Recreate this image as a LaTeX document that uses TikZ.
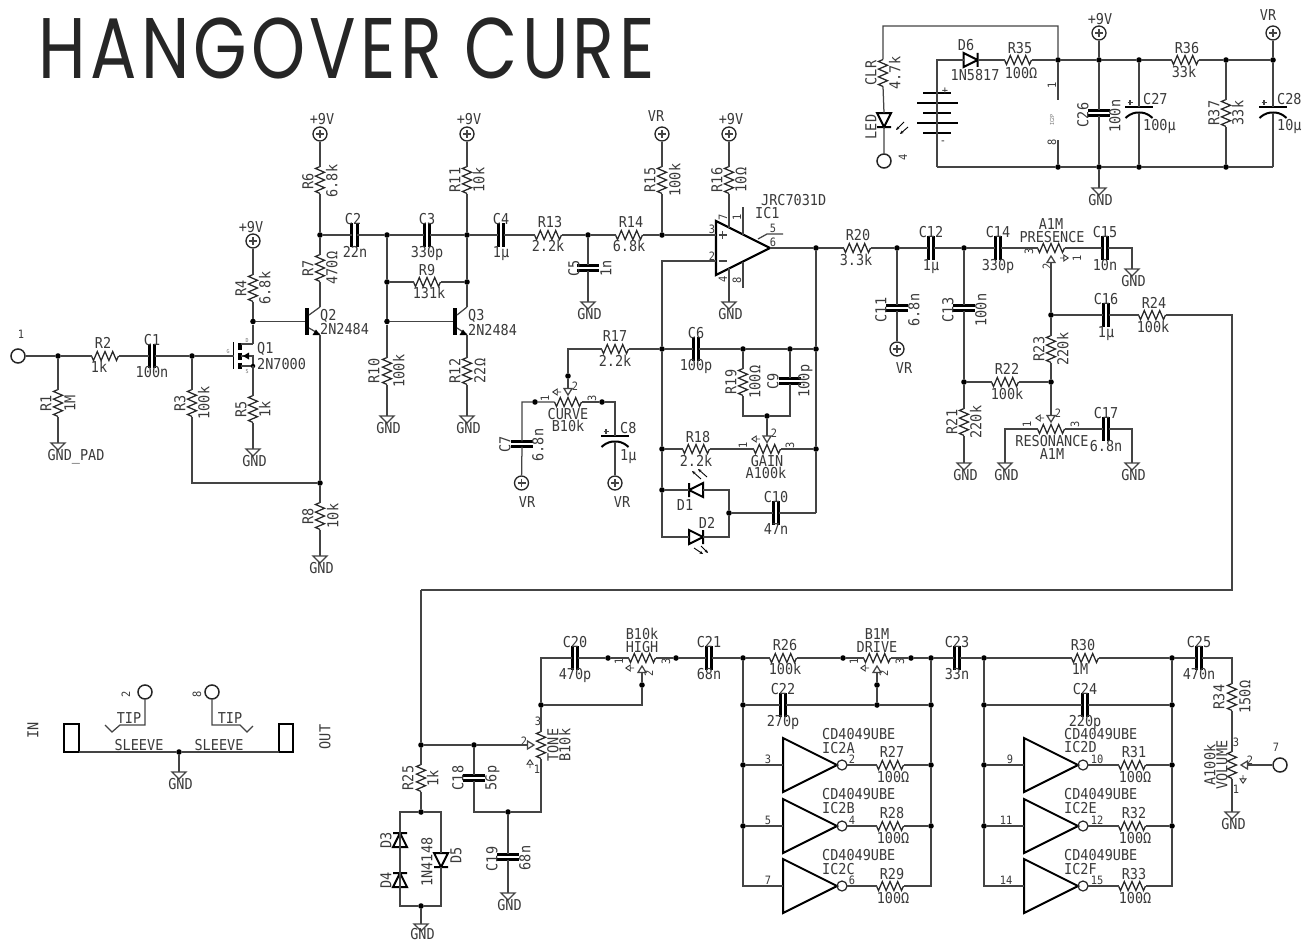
\documentclass[tikz,border=0pt]{standalone}
\usepackage{fontspec}
\usetikzlibrary{arrows.meta}
\newfontfamily\eag[FakeStretch=0.9]{DejaVu Sans Mono}
\newfontfamily\ttl[FakeStretch=0.8,LetterSpace=5]{Poppins}
\definecolor{wc}{HTML}{444444}
\definecolor{tc}{HTML}{3a3a3a}
\tikzset{
 wire/.style={line width=1.25pt,color=wc,line join=miter},
 zig/.style={line width=1.25pt,color=black!85,line join=miter},
 thk/.style={line width=2pt,color=black,line join=miter},
 plate/.style={line width=3pt,color=black},
 dot/.style={circle,fill=black,inner sep=0pt,minimum size=5.6pt},
 padc/.style={circle,draw=black!85,line width=1.5pt,inner sep=0pt,minimum size=14pt},
 supc/.style={circle,draw=black!85,line width=1.3pt,inner sep=0pt,minimum size=14pt},
 lab/.style={inner sep=0pt,text=tc,font=\eag\fontsize{15}{15}\selectfont,text height=10.9pt,text depth=0pt},
 sml/.style={inner sep=0pt,text=tc,font=\eag\fontsize{11.5}{12}\selectfont,text height=8.4pt,text depth=0pt},
 tiny/.style={inner sep=0pt,text=black!55,font=\eag\fontsize{5.5}{6}\selectfont,text height=4pt,text depth=0pt},
}
\newcounter{tn}
\newcommand{\Tx}[3]{\stepcounter{tn}\node[lab] (t\arabic{tn}) at (#1,#2) {#3};}
\newcommand{\Txr}[3]{\stepcounter{tn}\node[lab,rotate=90] (t\arabic{tn}) at (#1,#2) {#3};}
\newcommand{\Txl}[3]{\stepcounter{tn}\node[lab,anchor=west] (t\arabic{tn}) at (#1,#2) {#3};}
\newcommand{\Tsm}[3]{\stepcounter{tn}\node[sml] (t\arabic{tn}) at (#1,#2) {#3};}
\newcommand{\Tsr}[3]{\stepcounter{tn}\node[sml,rotate=90] (t\arabic{tn}) at (#1,#2) {#3};}
\newcommand{\Tty}[4]{\stepcounter{tn}\node[tiny,rotate=#4] (t\arabic{tn}) at (#1,#2) {#3};}
\newcommand{\Zz}{(-13.5,0)--(-11.5,4.5)--(-7.7,-4.5)--(-3.9,4.5)--(0,-4.5)--(3.9,4.5)--(7.7,-4.5)--(11.5,4.5)--(13.5,0)}
\newcommand{\Rh}[3]{\begin{scope}[shift={(#2,#3)}]\draw[zig] \Zz;\coordinate (#1-a) at (-13.5,0);\coordinate (#1-b) at (13.5,0);\end{scope}}
\newcommand{\Rv}[3]{\begin{scope}[shift={(#2,#3)},rotate=-90]\draw[zig] \Zz;\coordinate (#1-a) at (-13.5,0);\coordinate (#1-b) at (13.5,0);\end{scope}}
\newcommand{\Ch}[3]{\draw[plate] (#2-2.6,#3-12)--(#2-2.6,#3+12);\draw[plate] (#2+2.6,#3-12)--(#2+2.6,#3+12);\coordinate (#1-a) at (#2-2.6,#3);\coordinate (#1-b) at (#2+2.6,#3);}
\newcommand{\Cv}[3]{\draw[plate] (#2-11,#3-2.6)--(#2+11,#3-2.6);\draw[plate] (#2-11,#3+2.6)--(#2+11,#3+2.6);\coordinate (#1-a) at (#2,#3-2.6);\coordinate (#1-b) at (#2,#3+2.6);}
\newcommand{\Cp}[3]{\draw[thk] (#2-14,#3)--(#2+14,#3);\draw[thk] (#2-13.5,#3+11) .. controls (#2-8,#3+6) and (#2-4,#3+5.5) .. (#2,#3+5.5) .. controls (#2+4,#3+5.5) and (#2+8,#3+6) .. (#2+13.5,#3+11);\draw[wire] (#2-11.5,#3-4.5)--(#2-6.5,#3-4.5) (#2-9,#3-7)--(#2-9,#3-2);\coordinate (#1-a) at (#2,#3);\coordinate (#1-b) at (#2,#3+5.5);}
\newcommand{\GndS}[3]{\draw[wire] (#2-7,#3)--(#2+7,#3)--(#2,#3+7)--cycle;\coordinate (#1) at (#2,#3);}
\newcommand{\Gnd}[3]{\GndS{#1}{#2}{#3}\Tx{#2+1.5}{#3+12}{GND}}
\newcommand{\Vs}[3]{\node[supc] (#1) at (#2,#3) {};\draw[wire] (#2-4,#3)--(#2+4,#3) (#2,#3-4)--(#2,#3+4);}
% wiper arrow: apex at (x,y), rot 0 = pointing down
\newcommand{\Ar}[4]{\begin{scope}[shift={(#2,#3)},rotate=#4]\draw[wire] (0,0)--(-4,-6.5)--(4,-6.5)--cycle;\coordinate (#1) at (0,-6.5);\end{scope}}
% pin-1 tick mark
\newcommand{\Tk}[3]{\begin{scope}[shift={(#1,#2)},rotate=#3]\draw[line width=.9pt,color=black!80] (-2.2,0)--(2.2,-3)--(2.2,3)--cycle (2.2,0)--(6,0);\end{scope}}
% diode: rot 0 points right
\newcommand{\Dd}[4]{\begin{scope}[shift={(#2,#3)},rotate=#4]\draw[thk] (-7,-7)--(-7,7)--(7,0)--cycle (7,-7)--(7,7);\coordinate (#1-a) at (-7,0);\coordinate (#1-b) at (7,0);\end{scope}}
\newcommand{\Npn}[3]{\draw[line width=4pt,color=black] (#2,308)--(#2,335);\draw[wire] (#2+2,315)--(#3,307) (#2+2,328)--(#3,334.5);\fill[black] (#3-4,329.5)--(#3,335)--(#3-7.5,335)--cycle;\coordinate (#1-b) at (#2-2,321.5);\coordinate (#1-c) at (#3,307);\coordinate (#1-e) at (#3,334.5);}
\newcommand{\Inv}[3]{\draw[thk] (#2,#3-27)--(#2,#3+27)--(#2+54,#3)--cycle;\draw[line width=1.2pt,color=black!85] (#2+59,#3) circle (5);\coordinate (#1-i) at (#2,#3);\coordinate (#1-o) at (#2+64,#3);}
\newcommand{\Ledar}[4]{\draw[line width=.9pt,color=black,-{Stealth[length=3.5pt,width=3pt]}] (#1,#2)--(#3,#4);}
\begin{document}
\begin{tikzpicture}[x=1pt,y=-1pt]
\useasboundingbox (0,0) rectangle (1311,942);
\fill[white] (0,0) rectangle (1311,942);
% title
\node[inner sep=0pt,font=\ttl\fontsize{86}{86}\selectfont,text=black!85,anchor=center] (title) at (346.5,48) {HANGOVER CURE};

% ---------- input stage
\node[padc] (p1) at (18,356) {}; \Tsm{21}{334}{1}
\node[dot] (j1) at (58,356) {};
\node[dot] (j2) at (192,356) {};
\node[dot] (j3) at (253,321.5) {};
\node[dot] (j4) at (320,235) {};
\node[dot] (j5) at (387,235) {};
\node[dot] (j6) at (467,235) {};
\node[dot] (j7) at (387,282) {};
\node[dot] (j8) at (467,282) {};
\node[dot] (j9) at (387,321.5) {};
\node[dot] (j10) at (588,235) {};
\node[dot] (j11) at (662,235) {};
\node[dot] (j12) at (320,483) {};
\Rh{R2}{105}{356}\Tx{103}{343}{R2}\Tx{99}{367}{1k}
\Ch{C1}{152}{356}\Tx{152}{340}{C1}\Tx{152}{372}{100n}
\Rv{R1}{58}{403}\Txr{46}{403}{R1}\Txr{70}{403}{1M}
\GndS{G1}{58}{443}\Tx{76}{455}{GND\_PAD}
\Rv{R3}{192}{403}\Txr{180}{403}{R3}\Txr{204}{403}{100k}
\Rv{R4}{253}{288}\Txr{241}{288}{R4}\Txr{265}{288}{6.8k}
\Vs{V1}{253}{241}\Tx{251}{227}{+9V}
\Rv{R5}{253}{409}\Txr{241}{409}{R5}\Txr{265}{409}{1k}
\Gnd{G2}{253}{449}
\Rv{R6}{320}{180}\Txr{308}{181}{R6}\Txr{332}{181}{6.8k}
\Vs{V2}{320}{134}\Tx{322}{119}{+9V}
\Rv{R7}{320}{268}\Txr{308}{268}{R7}\Txr{332}{268}{470Ω}
\Rv{R8}{320}{516}\Txr{308}{516}{R8}\Txr{333}{516}{10k}
\Gnd{G3}{320}{556}
\Npn{Q2}{307}{320}\Txl{320}{315}{Q2}\Txl{320}{329}{2N2484}
% Q1 MOSFET
\draw[line width=1.6pt,color=black] (233.5,342)--(233.5,369);
\draw[line width=4pt,color=black] (239.5,343)--(239.5,350) (239.5,352.5)--(239.5,360) (239.5,362.5)--(239.5,369);
\coordinate (Q1-g) at (233.5,356);
\coordinate (Q1-d) at (253,344);
\coordinate (Q1-s) at (253,366);
\coordinate (Q1-m) at (253,356);
\draw[wire] (241,344)--(Q1-d) (241,366)--(Q1-s) (241,356)--(Q1-m)--(Q1-s);
\fill[black] (243,356)--(249,352.5)--(249,359.5)--cycle;
\node[dot,minimum size=4.5pt] (j13) at (253,366) {};
\Tty{228}{351}{G}{0}\Tty{247}{340}{D}{0}\Tty{247}{371}{S}{0}
\Txl{257}{348}{Q1}\Txl{257}{364}{2N7000}
\draw[wire] (p1)--(j1)--(R2-a) (R2-b)--(C1-a) (C1-b)--(j2)--(Q1-g);
\draw[wire] (j1)--(R1-a) (R1-b)--(G1);
\draw[wire] (j2)--(R3-a);
\draw[wire] (R3-b) |- (j12);
\draw[wire] (V1)--(R4-a) (R4-b)--(j3)--(Q1-d) (j3)--(Q2-b);
\draw[wire] (Q1-s)--(R5-a) (R5-b)--(G2);
\draw[wire] (V2)--(R6-a) (R6-b)--(j4)--(R7-a) (R7-b)--(Q2-c) (Q2-e)--(j12)--(R8-a) (R8-b)--(G3);

% ---------- second stage
\Ch{C2}{354.5}{235}\Tx{353}{219}{C2}\Tx{355}{252}{22n}
\Ch{C3}{427}{235}\Tx{427}{219}{C3}\Tx{427}{252}{330p}
\Ch{C4}{501}{235}\Tx{501}{219}{C4}\Tx{501}{252}{1µ}
\Rh{R9}{427}{282}\Tx{427}{270}{R9}\Tx{429}{293}{131k}
\Rv{R10}{387}{371}\Txr{374}{371}{R10}\Txr{399}{371}{100k}
\Gnd{G4}{387}{416}
\Rv{R11}{467}{180}\Txr{455}{180}{R11}\Txr{479}{180}{10k}
\Vs{V3}{467}{134}\Tx{469}{119}{+9V}
\Rv{R12}{467}{371}\Txr{455}{371}{R12}\Txr{480}{371}{22Ω}
\Gnd{G5}{467}{416}
\Npn{Q3}{455}{467}\Txl{468}{315}{Q3}\Txl{468}{330}{2N2484}
\Rh{R13}{548}{235}\Tx{550}{222}{R13}\Tx{548}{246}{2.2k}
\Rh{R14}{629}{235}\Tx{631}{222}{R14}\Tx{629}{246}{6.8k}
\Cv{C5}{588}{268}\Txr{574}{268}{C5}\Txr{606}{268}{1n}
\Gnd{G6}{588}{302}
\Rv{R15}{662}{180}\Txr{650}{180}{R15}\Txr{675}{180}{100k}
\Vs{V4}{662}{134}\Tx{656}{116}{VR}
\Rv{R16}{729}{180}\Txr{717}{180}{R16}\Txr{741}{180}{10Ω}
\Vs{V5}{729}{134}\Tx{731}{119}{+9V}
\Gnd{G7}{729}{302}
\draw[wire] (j4)--(C2-a) (C2-b)--(j5)--(C3-a) (C3-b)--(j6)--(C4-a) (C4-b)--(R13-a) (R13-b)--(j10)--(R14-a) (R14-b)--(j11);
\draw[wire] (j5)--(j7)--(j9)--(R10-a) (R10-b)--(G4);
\draw[wire] (j9)--(Q3-b);
\draw[wire] (j7)--(R9-a) (R9-b)--(j8);
\draw[wire] (V3)--(R11-a) (R11-b)--(j6)--(j8)--(Q3-c) (Q3-e)--(R12-a) (R12-b)--(G5);
\draw[wire] (j10)--(C5-a) (C5-b)--(G6);
\draw[wire] (V4)--(R15-a) (R15-b)--(j11);
\draw[wire] (V5)--(R16-a);

% ---------- op amp
\coordinate (A-p) at (716,235);
\coordinate (A-m) at (716,261);
\coordinate (A-o) at (770,248);
\coordinate (A-7) at (729,228);
\coordinate (A-4) at (729,268);
\draw[line width=2.2pt,color=black,line join=miter] (716,221)--(716,275)--(770,248)--cycle;
\draw[wire] (718.5,235)--(727,235) (722.8,231)--(722.8,239) (718.5,261)--(727,261);
\draw[wire] (R16-b)--(A-7) (A-4)--(G7);
\draw[wire] (743,207)--(743,235) (743,262)--(743,288);
\draw[wire] (758,239)--(767,234)--(783,234);
\Tsr{723}{217}{7}\Tsr{737}{217}{1}\Tsr{723}{279}{4}\Tsr{737}{280}{8}
\Tsm{712}{229}{3}\Tsm{712}{256}{2}\Tsm{773}{228}{5}\Tsm{773}{242}{6}
\Txl{755}{213}{IC1}\Txl{761}{200}{JRC7031D}
\node[dot] (j14) at (816,248) {};
\node[dot] (j15) at (662,349) {};
\node[dot] (j16) at (743,349) {};
\node[dot] (j17) at (790,349) {};
\node[dot] (j18) at (816,349) {};
\node[dot] (j19) at (662,449) {};
\node[dot] (j20) at (816,449) {};
\node[dot] (j21) at (662,490) {};
\node[dot] (j22) at (729,513) {};
\node[dot] (j23) at (767,416) {};
\coordinate (c1) at (729,490);
\coordinate (c2) at (662,537);
\coordinate (c3) at (729,537);
\coordinate (c4) at (743,416);
\coordinate (c5) at (790,416);
\coordinate (c6) at (816,513);
\draw[wire] (j11)--(A-p) (A-m)-|(j15) (A-o)--(j14)--(j18)--(j20)--(c6);
\Rh{R17}{615}{349}\Tx{615}{336}{R17}\Tx{615}{361}{2.2k}
\Ch{C6}{696}{349}\Tx{696}{333}{C6}\Tx{696}{365}{100p}
\Rv{R19}{743}{382}\Txr{731}{382}{R19}\Txr{755}{382}{100Ω}
\Cv{C9}{790}{381}\Txr{773}{381}{C9}\Txr{804}{381}{100p}
\Rh{R18}{696}{449}\Tx{698}{437}{R18}\Tx{696}{461}{2.2k}
\Rh{PG}{767}{449}\Tx{767}{461}{GAIN}\Tx{766}{473.5}{A100k}
\Ar{PGw}{767}{442.5}{0}
\Tk{754}{439}{0}\Tsr{743}{445}{1}\Tsm{774}{433}{2}\Tsr{790}{445}{3}
\Dd{D1}{696}{490}{180}\Tx{685}{505}{D1}
\Dd{D2}{696}{537}{0}\Tx{707}{523}{D2}
\Ledar{701}{479}{692}{471}\Ledar{707}{477}{698}{469}
\Ledar{694}{548}{703}{554}\Ledar{701}{546}{708}{553}
\Ch{C10}{776}{513}\Tx{776}{497}{C10}\Tx{776}{529}{47n}
\draw[wire] (j15)--(C6-a) (C6-b)--(j16)--(j17)--(j18);
\draw[wire] (j16)--(R19-a) (R19-b)--(c4)--(j23)--(c5)--(C9-b) (C9-a)--(j17);
\draw[wire] (j23)--(PGw);
\draw[wire] (R17-b)--(j15)--(j19)--(j21)--(c2)--(D2-a) (D2-b)--(c3)--(j22)--(c1)--(D1-a) (D1-b)--(j21);
\draw[wire] (j19)--(R18-a) (R18-b)--(PG-a) (PG-b)--(j20);
\draw[wire] (j22)--(C10-a) (C10-b)--(c6);

% ---------- curve
\coordinate (c7) at (568,349);
\node[dot] (j24) at (568,376) {};
\Ar{PCw}{568}{395}{0}
\Rh{PC}{568}{402}\Tx{568}{414}{CURVE}\Tx{568}{426.5}{B10k}
\Tk{555}{392}{0}\Tsr{545}{398}{1}\Tsm{575}{386}{2}\Tsr{592}{398}{3}
\node[dot] (j25) at (535,402) {};
\node[dot] (j26) at (602,402) {};
\coordinate (c8) at (522,402);
\coordinate (c9) at (615,402);
\Cv{C7}{522}{444}\Txr{505}{444}{C7}\Txr{538}{445}{6.8n}
\Vs{V6}{521.5}{483}\Tx{527}{502}{VR}
\Cp{C8}{615}{436}\Txl{620}{428}{C8}\Txl{620}{455}{1µ}
\Vs{V7}{615}{483}\Tx{622}{502}{VR}
\draw[wire] (R17-a)--(c7)--(j24)--(PCw);
\draw[wire] (PC-a)--(j25)--(c8)--(C7-a) (C7-b)--(V6);
\draw[wire] (PC-b)--(j26)--(c9)--(C8-a) (C8-b)--(V7);

% ---------- presence / resonance
\Rh{R20}{857}{248}\Tx{858}{235}{R20}\Tx{856}{260}{3.3k}
\node[dot] (j27) at (897,248) {};
\Cv{C11}{897}{308}\Txr{881}{310}{C11}\Txr{914}{310}{6.8n}
\Vs{V8}{897}{349}\Tx{904}{368}{VR}
\Ch{C12}{931}{248}\Tx{931}{232}{C12}\Tx{931}{265}{1µ}
\node[dot] (j28) at (964,248) {};
\Cv{C13}{964}{308}\Txr{948}{310}{C13}\Txr{981}{310}{100n}
\Ch{C14}{998}{248}\Tx{998}{232}{C14}\Tx{998}{265}{330p}
\Rh{PP}{1051}{248}\Tx{1051}{224}{A1M}\Tx{1052}{237}{PRESENCE}
\Ar{PPw}{1051}{256}{180}
\Tsr{1029}{251}{3}\Tsr{1047}{266}{2}\Tk{1066}{258}{180}\Tsr{1077}{258}{1}
\Ch{C15}{1105}{248}\Tx{1105}{232}{C15}\Tx{1105}{265}{10n}
\coordinate (c10) at (1132,248);
\Gnd{G8}{1132}{269}
\node[dot] (j29) at (1051,315) {};
\Ch{C16}{1106}{315}\Tx{1106}{299}{C16}\Tx{1106}{332}{1µ}
\Rh{R24}{1152}{315}\Tx{1154}{303}{R24}\Tx{1153}{327}{100k}
\coordinate (c11) at (1232,315);
\coordinate (c12) at (1232,590);
\coordinate (c13) at (421,590);
\Rv{R23}{1051}{349}\Txr{1039}{349}{R23}\Txr{1063}{349}{220k}
\node[dot] (j30) at (1051,382) {};
\node[dot] (j31) at (964,382) {};
\Rh{R22}{1005}{382}\Tx{1007}{369}{R22}\Tx{1007}{394}{100k}
\Rv{R21}{964}{422}\Txr{952}{422}{R21}\Txr{976}{422}{220k}
\Gnd{G9}{964}{463}
\Ar{PRw}{1051}{422}{0}
\Rh{PR}{1051}{429}\Tx{1052}{441}{RESONANCE}\Tx{1052}{454}{A1M}
\Tk{1038}{418}{0}\Tsr{1027}{424}{1}\Tsm{1058}{413}{2}\Tsr{1075}{424}{3}
\coordinate (c14) at (1005,429);
\Gnd{G10}{1005}{463}
\Ch{C17}{1106}{429}\Tx{1106}{413}{C17}\Tx{1106}{446}{6.8n}
\coordinate (c15) at (1132,429);
\Gnd{G11}{1132}{463}
\draw[wire] (j14)--(R20-a) (R20-b)--(j27)--(C12-a) (C12-b)--(j28)--(C14-a) (C14-b)--(PP-a) (PP-b)--(C15-a) (C15-b)--(c10)--(G8);
\draw[wire] (j27)--(C11-a) (C11-b)--(V8);
\draw[wire] (j28)--(C13-a) (C13-b)--(j31)--(R21-a) (R21-b)--(G9);
\draw[wire] (PPw)--(j29)--(R23-a) (R23-b)--(j30)--(PRw);
\draw[wire] (j29)--(C16-a) (C16-b)--(R24-a) (R24-b)--(c11)--(c12)--(c13);
\draw[wire] (j31)--(R22-a) (R22-b)--(j30);
\draw[wire] (PR-a)--(c14)--(G10) (PR-b)--(C17-a) (C17-b)--(c15)--(G11);

% ---------- tone
\node[dot] (j32) at (421,745) {};
\node[dot] (j33) at (474,745) {};
\Rv{R25}{421}{778}\Txr{408}{778}{R25}\Txr{433}{778}{1k}
\node[dot] (j34) at (421,812) {};
\node[dot] (j35) at (421,906) {};
\coordinate (c16) at (400,812);
\coordinate (c17) at (441,812);
\coordinate (c18) at (400,906);
\coordinate (c19) at (441,906);
\Dd{D3}{400}{840}{90}\Txr{386}{840}{D3}
\Dd{D4}{400}{880}{90}\Txr{386}{880}{D4}
\Dd{D5}{441}{860}{-90}\Txr{456}{855}{D5}
\Txr{427}{862}{1N4148}
\GndS{G12}{421}{924}\Tx{422.5}{934.5}{GND}
\Ar{PTw}{534}{745}{90}
\Rv{PT}{541}{745}\Txr{553}{745}{TONE}\Txr{565}{745}{B10k}
\Tsm{524}{741}{2}\Tsm{538}{721}{3}\Tk{530}{762}{-90}\Tsm{537}{769}{1}
\node[dot] (j36) at (541,705) {};
\coordinate (c20) at (541,658);
\coordinate (c21) at (541,812);
\node[dot] (j37) at (508,812) {};
\coordinate (c22) at (474,812);
\Cv{C18}{474}{778}\Txr{458}{778}{C18}\Txr{491}{778}{56p}
\Cv{C19}{508}{857}\Txr{492}{859}{C19}\Txr{525}{858}{68n}
\Gnd{G13}{508}{893}
\Ch{C20}{575}{658}\Tx{575}{642}{C20}\Tx{575}{674}{470p}
\node[dot] (j38) at (608,658) {};
\Rh{PH}{642}{658}\Tx{642}{634}{B10k}\Tx{642}{647}{HIGH}
\Ar{PHw}{642}{666}{180}
\Tsr{619}{661}{1}\Tk{628}{668}{0}\Tsr{649}{673}{2}\Tsr{666}{661}{3}
\node[dot] (j39) at (642,685) {};
\coordinate (c23) at (642,705);
\node[dot] (j40) at (676,658) {};
\Ch{C21}{709}{658}\Tx{709}{642}{C21}\Tx{709}{674}{68n}
\draw[wire] (c13)--(j32)--(R25-a) (R25-b)--(j34)--(c16)--(D3-a) (D3-b)--(D4-a) (D4-b)--(c18)--(j35)--(c19)--(D5-b) (D5-a)--(c17)--(j34);
\draw[wire] (j35)--(G12);
\draw[wire] (j32)--(j33)--(PTw);
\draw[wire] (j33)--(C18-a) (C18-b)--(c22)--(j37)--(c21)--(PT-b) (PT-a)--(j36)--(c20)--(C20-a) (C20-b)--(j38)--(PH-a) (PH-b)--(j40)--(C21-a);
\draw[wire] (j37)--(C19-a) (C19-b)--(G13);
\draw[wire] (PHw)--(j39)--(c23)--(j36);

% ---------- drive
\node[dot] (j41) at (743,658) {};
\node[dot] (j42) at (743,705) {};
\node[dot] (j43) at (743,765) {};
\node[dot] (j44) at (743,826) {};
\coordinate (c24) at (743,886);
\Rh{R26}{783}{658}\Tx{785}{645}{R26}\Tx{785}{669}{100k}
\node[dot] (j45) at (843,658) {};
\Rh{PD}{877}{658}\Tx{877}{634}{B1M}\Tx{877}{647}{DRIVE}
\Ar{PDw}{877}{666}{180}
\Tsr{854}{661}{1}\Tk{863}{668}{0}\Tsr{884}{673}{2}\Tsr{900}{661}{3}
\node[dot] (j46) at (911,658) {};
\node[dot] (j47) at (931,658) {};
\node[dot] (j48) at (877,685) {};
\node[dot] (j49) at (877,705) {};
\node[dot] (j50) at (931,705) {};
\node[dot] (j51) at (931,765) {};
\node[dot] (j52) at (931,826) {};
\coordinate (c25) at (931,886);
\Ch{C22}{783}{705}\Tx{783}{689}{C22}\Tx{783}{721}{270p}
\Inv{IA}{783}{765}\Inv{IB}{783}{826}\Inv{IC}{783}{886}
\Rh{R27}{890}{765}\Tx{892}{752}{R27}\Tx{893}{777}{100Ω}
\Rh{R28}{890}{826}\Tx{892}{813}{R28}\Tx{893}{838}{100Ω}
\Rh{R29}{890}{886}\Tx{892}{874}{R29}\Tx{893}{898}{100Ω}
\Tsm{768}{759}{3}\Tsm{768}{820}{5}\Tsm{768}{880}{7}
\Tsm{852}{759}{2}\Tsm{852}{820}{4}\Tsm{852}{880}{6}
\Txl{822}{734}{CD4049UBE}\Txl{822}{748}{IC2A}
\Txl{822}{794}{CD4049UBE}\Txl{822}{808}{IC2B}
\Txl{822}{855}{CD4049UBE}\Txl{822}{869}{IC2C}
\Ch{C23}{957}{658}\Tx{957}{642}{C23}\Tx{957}{674}{33n}
\draw[wire] (C21-b)--(j41)--(R26-a) (R26-b)--(j45)--(PD-a) (PD-b)--(j46)--(j47)--(C23-a);
\draw[wire] (j41)--(j42)--(j43)--(j44)--(c24)--(IC-i);
\draw[wire] (j43)--(IA-i) (j44)--(IB-i);
\draw[wire] (j42)--(C22-a) (C22-b)--(j49)--(j50);
\draw[wire] (PDw)--(j48)--(j49);
\draw[wire] (j47)--(j50)--(j51)--(j52)--(c25)--(R29-b);
\draw[wire] (IA-o)--(R27-a) (R27-b)--(j51);
\draw[wire] (IB-o)--(R28-a) (R28-b)--(j52);
\draw[wire] (IC-o)--(R29-a);

% ---------- output section
\node[dot] (j53) at (984,658) {};
\node[dot] (j54) at (984,705) {};
\node[dot] (j55) at (984,765) {};
\node[dot] (j56) at (984,826) {};
\coordinate (c26) at (984,886);
\Rh{R30}{1085}{658}\Tx{1083}{645}{R30}\Tx{1080}{669}{1M}
\node[dot] (j57) at (1172,658) {};
\node[dot] (j58) at (1172,705) {};
\node[dot] (j59) at (1172,765) {};
\node[dot] (j60) at (1172,826) {};
\coordinate (c27) at (1172,886);
\Ch{C24}{1085}{705}\Tx{1085}{689}{C24}\Tx{1085}{721}{220p}
\Inv{ID}{1024}{765}\Inv{IE}{1024}{826}\Inv{IF}{1024}{886}
\Rh{R31}{1132}{765}\Tx{1134}{752}{R31}\Tx{1135}{777}{100Ω}
\Rh{R32}{1132}{826}\Tx{1134}{813}{R32}\Tx{1135}{838}{100Ω}
\Rh{R33}{1132}{886}\Tx{1134}{874}{R33}\Tx{1135}{898}{100Ω}
\Tsm{1010}{759}{9}\Tsm{1006}{820}{11}\Tsm{1006}{880}{14}
\Tsm{1097}{759}{10}\Tsm{1097}{820}{12}\Tsm{1097}{880}{15}
\Txl{1064}{734}{CD4049UBE}\Txl{1064}{747}{IC2D}
\Txl{1064}{794}{CD4049UBE}\Txl{1064}{808}{IC2E}
\Txl{1064}{855}{CD4049UBE}\Txl{1064}{869}{IC2F}
\Ch{C25}{1199}{658}\Tx{1199}{642}{C25}\Tx{1199}{674}{470n}
\coordinate (c28) at (1232,658);
\Rv{R34}{1232}{697}\Txr{1219}{697}{R34}\Txr{1245}{697}{150Ω}
\Rv{PV}{1232}{765}\Txr{1222}{765}{VOLUME}\Txr{1210}{765}{A100k}
\Ar{PVw}{1241}{765}{-90}
\Tsm{1236}{742}{3}\Tsm{1250}{760}{2}\Tk{1243}{781}{90}\Tsm{1236}{789}{1}
\node[padc] (p7) at (1280,765) {}; \Tsm{1276}{747}{7}
\Gnd{G14}{1232}{812}
\draw[wire] (C23-b)--(j53)--(R30-a) (R30-b)--(j57)--(C25-a) (C25-b)--(c28)--(R34-a) (R34-b)--(PV-a) (PV-b)--(G14);
\draw[wire] (j53)--(j54)--(j55)--(j56)--(c26)--(IF-i);
\draw[wire] (j55)--(ID-i) (j56)--(IE-i);
\draw[wire] (j54)--(C24-a) (C24-b)--(j58);
\draw[wire] (j57)--(j58)--(j59)--(j60)--(c27)--(R33-b);
\draw[wire] (ID-o)--(R31-a) (R31-b)--(j59);
\draw[wire] (IE-o)--(R32-a) (R32-b)--(j60);
\draw[wire] (IF-o)--(R33-a);
\draw[wire] (PVw)--(p7);

% ---------- jacks
\node[draw=black,line width=2pt,minimum width=15pt,minimum height=28pt,inner sep=0pt] (JL) at (71.5,738) {};
\node[draw=black,line width=2pt,minimum width=14pt,minimum height=28pt,inner sep=0pt] (JR) at (286,738) {};
\coordinate (JLs) at (79,752);
\coordinate (JRs) at (279,752);
\node[dot] (j61) at (179,752) {};
\Gnd{G15}{179}{772}
\Txr{33}{730}{IN}\Txr{325}{737}{OUT}
\Tx{139}{745}{SLEEVE}\Tx{219}{745}{SLEEVE}
\Tx{129}{718}{TIP}\Tx{230}{718}{TIP}
\node[padc] (p2) at (145,692) {}; \Tsr{126}{694}{2}
\node[padc] (p8) at (212,692) {}; \Tsr{197}{694}{8}
\coordinate (c29) at (145,725);
\coordinate (c30) at (120,725);
\coordinate (c31) at (112,732);
\coordinate (c32) at (105,725);
\coordinate (c33) at (212,725);
\coordinate (c34) at (240,725);
\coordinate (c35) at (247,732);
\coordinate (c36) at (253,726);
\draw[wire] (JLs)--(j61)--(JRs) (j61)--(G15);
\draw[wire] (p2)--(c29)--(c30)--(c31)--(c32);
\draw[wire] (p8)--(c33)--(c34)--(c35)--(c36);

% ---------- power
\node[dot] (j62) at (1058,60) {};
\node[dot] (j63) at (1099,60) {};
\node[dot] (j64) at (1139,60) {};
\node[dot] (j65) at (1226,60) {};
\node[dot] (j66) at (1273,60) {};
\node[dot] (j67) at (1058,167) {};
\node[dot] (j68) at (1099,167) {};
\node[dot] (j69) at (1139,167) {};
\node[dot] (j70) at (1226,167) {};
\coordinate (c37) at (1273,167);
\coordinate (c38) at (937,167);
\coordinate (c39) at (937,60);
\coordinate (c40) at (883,26);
\coordinate (c41) at (1058,26);
\coordinate (c42) at (1058,100);
\coordinate (c43) at (1058,140);
\Rv{RC}{883}{73}\Txr{871}{73}{CLR}\Txr{895}{73}{4.7k}
\Dd{LD}{884}{120}{-90}\Txr{871}{127}{LED}
\Ledar{904}{122}{896}{130}\Ledar{908}{127}{900}{134}
\node[padc] (p4) at (884,161) {}; \Tsr{903}{157}{4}
\draw[thk] (937,73)--(937,153);
\draw[thk] (923,93)--(951,93) (917,103)--(958,103) (923,113)--(951,113) (917,123)--(958,123) (923,133)--(951,133);
\Tsm{945}{90}{+}\Tsm{943}{140}{-}
\Dd{D6}{970.5}{60}{0}\Tx{966}{45}{D6}\Tx{975}{75}{1N5817}
\Rh{R35}{1018}{60}\Tx{1020}{48}{R35}\Tx{1021}{73}{100Ω}
\Tsr{1052}{85}{1}\Tty{1052}{120}{IC2P}{90}\Tsr{1052}{142}{8}
\Vs{V9}{1099}{33}\Tx{1100}{19}{+9V}
\Cv{C26}{1099}{113}\Txr{1083}{115}{C26}\Txr{1115}{116}{100n}
\Cp{C27}{1139}{107}\Txl{1143}{99}{C27}\Txl{1143}{125}{100µ}
\Rh{R36}{1185}{60}\Tx{1187}{48}{R36}\Tx{1184}{72}{33k}
\Rv{R37}{1226}{113}\Txr{1214}{113}{R37}\Txr{1238}{113}{33k}
\Vs{V10}{1273}{33}\Tx{1268}{15}{VR}
\Cp{C28}{1273}{107}\Txl{1277}{99}{C28}\Txl{1277}{125}{10µ}
\Gnd{G16}{1099}{188}
\draw[wire] (RC-a)--(c40)--(c41)--(j62) (RC-b)--(LD-a) (LD-b)--(p4);
\draw[wire] (c38)--(c39)--(D6-a) (D6-b)--(R35-a) (R35-b)--(j62)--(j63)--(j64)--(R36-a) (R36-b)--(j65)--(j66);
\draw[wire] (j62)--(c42) (c43)--(j67);
\draw[wire] (c38)--(j67)--(j68)--(j69)--(j70)--(c37);
\draw[wire] (V9)--(j63)--(C26-a) (C26-b)--(j68)--(G16);
\draw[wire] (j64)--(C27-a) (C27-b)--(j69);
\draw[wire] (j65)--(R37-a) (R37-b)--(j70);
\draw[wire] (V10)--(j66)--(C28-a) (C28-b)--(c37);
\end{tikzpicture}
\end{document}
